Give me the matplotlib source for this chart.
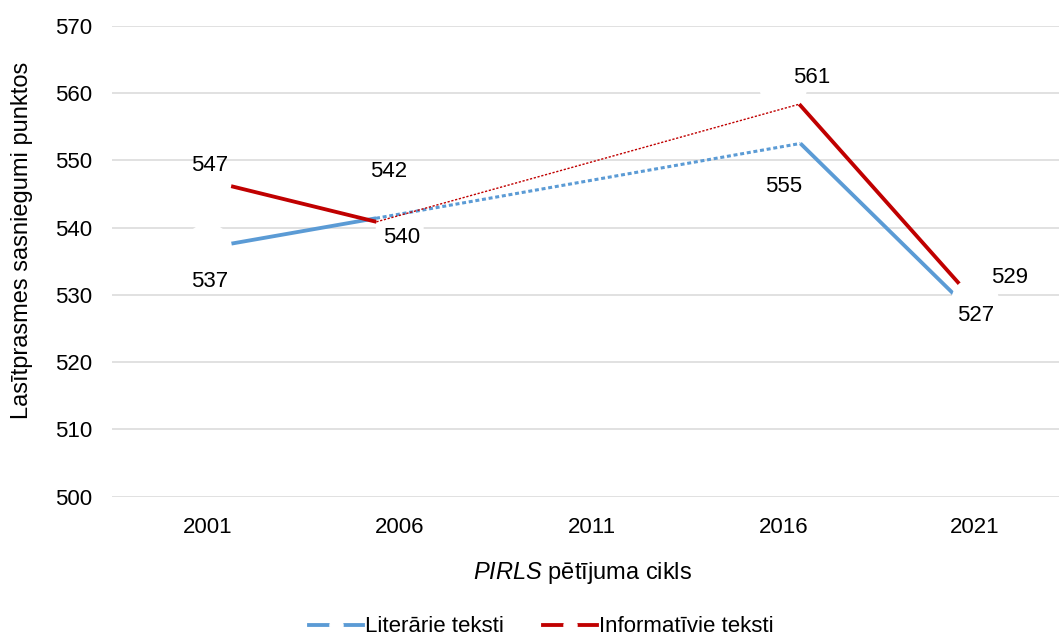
import numpy as np
import matplotlib.pyplot as plt
from matplotlib.lines import Line2D

plt.rcParams['font.family'] = ['Liberation Sans', 'DejaVu Sans']
plt.rcParams['mathtext.fontset'] = 'custom'
plt.rcParams['mathtext.it'] = 'Liberation Sans:italic'
plt.rcParams['mathtext.rm'] = 'Liberation Sans'

# dati
cikli = ['2001', '2006', '2011', '2016', '2021']
literarie = [537, 542, np.nan, 555, 527]
informativie = [547, 540, np.nan, 561, 529]

zila = '#5B9BD5'
sarkana = '#C00000'

# datu etiķešu nobīdes pikseļos (x, y uz leju)
nob_lit = [(2, 34), (-11, -43), None, (0, 60), (1, 0)]
nob_inf = [(2, -15), (2, 10), None, (28, -9), (34, -24)]

R = 24  # balto marķieru rādiuss, px

fig = plt.figure(figsize=(10.59, 6.36), dpi=100)
ax = fig.add_axes([112 / 1059, 1 - 496.7 / 636, 959 / 1059, 471 / 636])

x = np.arange(len(cikli))
ax.set_xlim(-0.5, 4.5)
ax.set_ylim(500, 570)
ax.set_yticks(range(500, 571, 10))
ax.set_xticks(x, cikli)
ax.tick_params(length=0, labelsize=16, colors='black')
ax.tick_params(axis='y', pad=14.5)
ax.tick_params(axis='x', pad=14.5)
for s in ax.spines.values():
    s.set_visible(False)
ax.set_axisbelow(True)
ax.yaxis.grid(True, color='#D9D9D9', lw=1.1)

# līnijas
ax.plot(x, literarie, color=zila, lw=2.75, zorder=2, solid_capstyle='butt')
ax.plot(x, informativie, color=sarkana, lw=2.75, zorder=2, solid_capstyle='butt')

# baltie marķieri, kas aizsedz līniju galus
mk = (2 * R * 72 / 100) ** 2
ax.scatter(x, literarie, s=mk, color='white', edgecolors='none', zorder=3)
ax.scatter(x, informativie, s=mk, color='white', edgecolors='none', zorder=3)


def gala_punkts(p_no, p_uz, r):
    # punkts uz nogriežņa p_no -> p_uz, r pikseļus pirms p_uz
    a = ax.transData.transform(p_no)
    b = ax.transData.transform(p_uz)
    d = (b - a) / np.hypot(*(b - a))
    return ax.transData.inverted().transform(b - r * d)


# punktotās līnijas pāri iztrūkstošajam 2011. gadam
for vert, krasa, lw, ls in [(literarie, zila, 2.2, (0, (1.3, 0.9))),
                            (informativie, sarkana, 1.0, (0, (1.6, 1.2)))]:
    p1 = gala_punkts((0, vert[0]), (1, vert[1]), R)
    p2 = gala_punkts((4, vert[4]), (3, vert[3]), R)
    ax.plot([p1[0], p2[0]], [p1[1], p2[1]], color=krasa, lw=lw, ls=ls, zorder=4)

# datu etiķetes
for vert, nob in [(literarie, nob_lit), (informativie, nob_inf)]:
    for i, v in enumerate(vert):
        if nob[i] is None:
            continue
        ax.annotate(str(int(v)), (i, v), xytext=(nob[i][0], -nob[i][1]),
                    textcoords='offset pixels', ha='center', va='center',
                    fontsize=16, zorder=5)

fig.text(22 / 1059, 1 - 240 / 636, 'Lasītprasmes sasniegumi punktos',
         rotation=90, ha='center', va='center', fontsize=17)
fig.text(583 / 1059, 1 - 573 / 636, r'$\mathit{PIRLS}$ pētījuma cikls',
         ha='center', va='center', fontsize=17)

rokturi = [Line2D([0], [0], color=zila, lw=2.75, marker='o', ms=9.4,
                  mfc='white', mec='white'),
           Line2D([0], [0], color=sarkana, lw=2.75, marker='o', ms=9.4,
                  mfc='white', mec='white')]
fig.legend(rokturi, ['Literārie teksti', 'Informatīvie teksti'], ncol=2,
           loc='center', bbox_to_anchor=(541 / 1059, 1 - 627 / 636),
           frameon=False, fontsize=16, handlelength=2.43, handletextpad=0.1,
           columnspacing=1.75, numpoints=1)

plt.savefig('out.png', dpi=100)
